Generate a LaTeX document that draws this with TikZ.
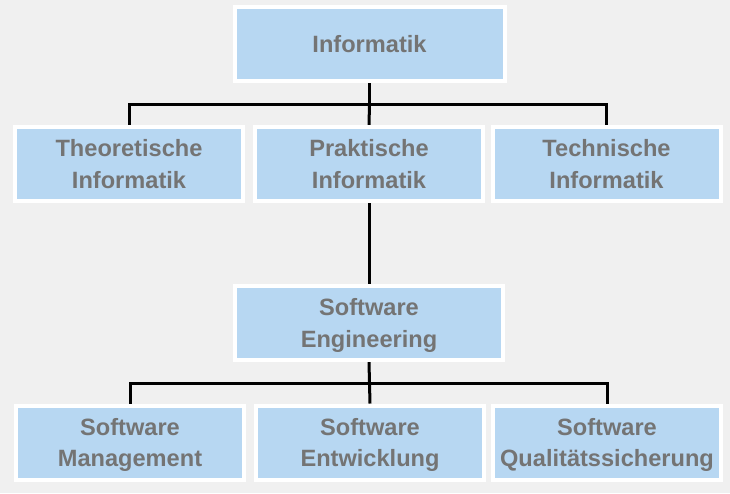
\documentclass[tikz,border=0pt]{standalone}
\usepackage{fontspec}
\setmainfont{Liberation Sans}
\usetikzlibrary{backgrounds}
\definecolor{bgc}{HTML}{F0F0F0}
\definecolor{boxblue}{HTML}{B7D7F2}
\definecolor{txtgray}{HTML}{747474}
\begin{document}
\begin{tikzpicture}[x=1pt,y=-1pt,
  box/.style={draw=white, fill=boxblue, line width=4pt, inner sep=0pt,
    minimum width=228pt, minimum height=74pt, align=center,
    text=txtgray, font=\fontsize{23.6pt}{31.5pt}\selectfont\bfseries,
    text height=48.5pt, text depth=0pt},
  onebox/.style={box, text height=17pt},
  conn/.style={draw=black, line width=3pt, line join=miter}]
\begin{scope}[on background layer]
\fill[bgc] (0,0) rectangle (730,493);
\end{scope}
\useasboundingbox (0,0) rectangle (730,493);
\node[onebox, minimum width=270pt] (inf) at (369.5,44) {Informatik};
\node[box] (theo) at (129,164) {Theoretische\\Informatik};
\node[box] (prak) at (369,164) {Praktische\\Informatik};
\node[box] (tech) at (606.5,164) {Technische\\Informatik};
\node[box, minimum width=268pt] (se) at (369,323) {Software\\Engineering};
\node[box] (sm) at (130,442.5) {Software\\Management};
\node[box] (ent) at (370,442.5) {Software\\Entwicklung};
\node[box] (qs) at (607,442.5) {Software\\Qualitätssicherung};
\coordinate (j1) at (369.5,104);
\coordinate (j2) at (369.5,383.5);
\begin{scope}[on background layer]
\draw[conn] (inf.south) -- (j1);
\draw[conn] (theo.north) |- (j1) -| (tech.north);
\draw[conn] (j1) -- (prak.north);
\draw[conn] (prak.south) -- (se.north);
\draw[conn] (se.south) -- (j2);
\draw[conn] (sm.north) |- (j2) -| (qs.north);
\draw[conn] (j2) -- (ent.north);
\end{scope}
\end{tikzpicture}
\end{document}
